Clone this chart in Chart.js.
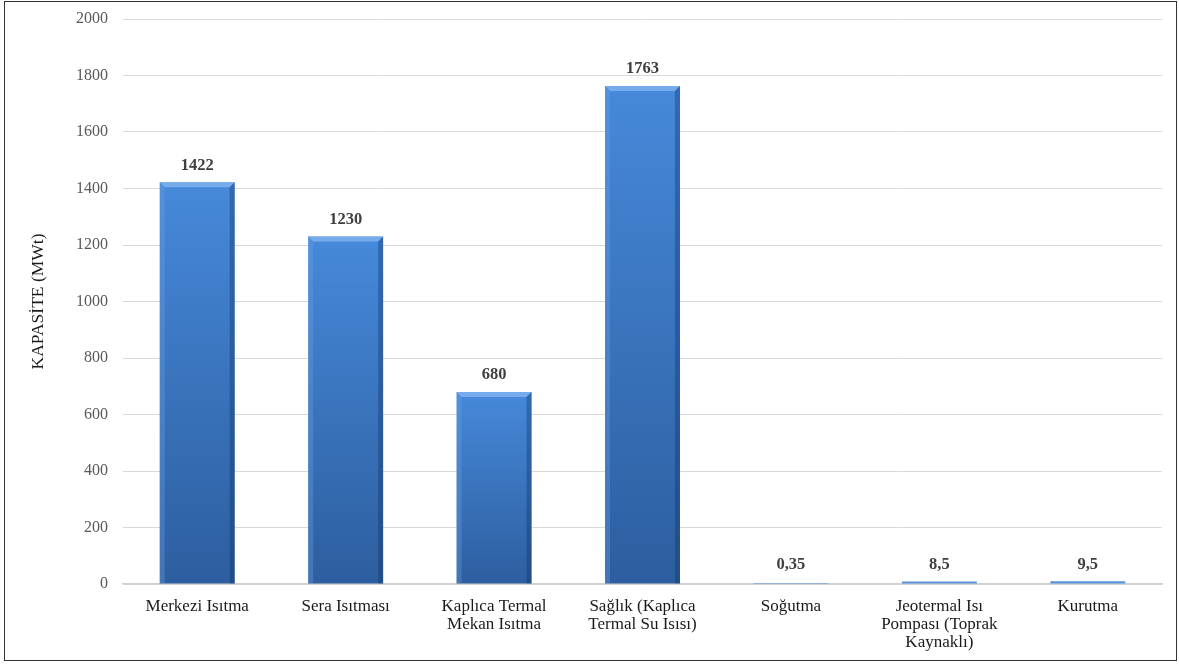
<!DOCTYPE html>
<html>
<head>
<meta charset="utf-8">
<script src="https://cdn.jsdelivr.net/npm/chart.js@4"></script>
<style>
html,body{margin:0;padding:0;background:#fff;}
#wrap{width:1179px;height:664px;position:relative;}
</style>
</head>
<body>
<div id="wrap"><canvas id="c" width="1179" height="664"></canvas></div>
<script>
const categories = [
  "Merkezi Isıtma",
  "Sera Isıtması",
  ["Kaplıca Termal", "Mekan Isıtma"],
  ["Sağlık (Kaplıca", "Termal Su Isısı)"],
  "Soğutma",
  ["Jeotermal Isı", "Pompası (Toprak", "Kaynaklı)"],
  "Kurutma"
];
const values = [1422, 1230, 680, 1763, 0.35, 8.5, 9.5];
const valueLabels = ["1422", "1230", "680", "1763", "0,35", "8,5", "9,5"];
const yTicks = [0, 200, 400, 600, 800, 1000, 1200, 1400, 1600, 1800, 2000];

const FONT = '"Liberation Serif", "Times New Roman", serif';

const framePlugin = {
  id: 'frame',
  beforeDraw(chart) {
    const ctx = chart.ctx;
    ctx.save();
    ctx.fillStyle = '#fff';
    ctx.fillRect(0, 0, chart.width, chart.height);
    ctx.restore();
  },
  afterDraw(chart) {
    const ctx = chart.ctx;
    ctx.save();
    ctx.strokeStyle = '#333';
    ctx.lineWidth = 1;
    ctx.strokeRect(4.5, 1.5, 1172, 659);
    ctx.restore();
  }
};

const barDecor = {
  id: 'barDecor',
  afterDatasetsDraw(chart) {
    const ctx = chart.ctx;
    const meta = chart.getDatasetMeta(0);
    ctx.save();
    meta.data.forEach((bar, i) => {
      const p = bar.getProps(['x', 'y', 'base', 'width'], true);
      const l = p.x - p.width / 2, r = p.x + p.width / 2;
      const h = p.base - p.y;
      if (h > 12) {
        const b = 5;
        ctx.fillStyle = 'rgba(130,180,240,0.8)';
        ctx.beginPath();
        ctx.moveTo(l, p.y); ctx.lineTo(r, p.y); ctx.lineTo(r - b, p.y + b); ctx.lineTo(l + b, p.y + b); ctx.closePath();
        ctx.fill();
        ctx.fillStyle = 'rgba(110,160,225,0.35)';
        ctx.beginPath();
        ctx.moveTo(l, p.y); ctx.lineTo(l + b, p.y + b); ctx.lineTo(l + b, p.base); ctx.lineTo(l, p.base); ctx.closePath();
        ctx.fill();
        ctx.fillStyle = 'rgba(15,45,95,0.35)';
        ctx.beginPath();
        ctx.moveTo(r, p.y); ctx.lineTo(r - b, p.y + b); ctx.lineTo(r - b, p.base); ctx.lineTo(r, p.base); ctx.closePath();
        ctx.fill();
      }
      ctx.fillStyle = '#404040';
      ctx.font = 'bold 16.5px ' + FONT;
      ctx.textAlign = 'center';
      ctx.textBaseline = 'middle';
      ctx.fillText(valueLabels[i], p.x, Math.min(p.y, p.base - 2) - 17);
    });
    ctx.restore();
  }
};

new Chart(document.getElementById('c'), {
  type: 'bar',
  data: {
    labels: categories,
    datasets: [{
      data: values,
      backgroundColor(ctx) {
        const chart = ctx.chart;
        const ys = chart.scales && chart.scales.y;
        if (!ys || ctx.raw === undefined) return '#3f7fcf';
        const top = ys.getPixelForValue(ctx.raw);
        const base = ys.getPixelForValue(0);
        if (!isFinite(top) || !isFinite(base) || base - top < 12) return '#5b92dc';
        const g = chart.ctx.createLinearGradient(0, top, 0, base);
        g.addColorStop(0, '#4689da');
        g.addColorStop(1, '#2d5e9f');
        return g;
      },
      borderWidth: 0,
      categoryPercentage: 1,
      barPercentage: 0.505
    }]
  },
  options: {
    responsive: false,
    animation: false,
    devicePixelRatio: 1,
    layout: { padding: { left: 0, top: 19, right: 17, bottom: 0 } },
    plugins: { legend: { display: false }, tooltip: { enabled: false } },
    scales: {
      x: {
        grid: { display: false, drawTicks: false },
        border: { display: true, color: '#d0d0d0', width: 1.5 },
        ticks: {
          color: '#1a1a1a',
          font: { family: FONT, size: 17, lineHeight: 1.04 },
          padding: 14,
          maxRotation: 0,
          autoSkip: false
        },
        afterFit(scale) { scale.height = 80; }
      },
      y: {
        min: 0,
        max: 2000,
        afterBuildTicks(scale) { scale.ticks = yTicks.map(v => ({ value: v })); },
        grid: { color: '#d9d9d9', drawTicks: false, lineWidth: 1 },
        border: { display: false },
        ticks: {
          color: '#595959',
          font: { family: FONT, size: 16 },
          padding: 15,
          callback(v) { return String(v); }
        },
        title: {
          display: true,
          text: 'KAPASİTE (MWt)',
          color: '#1a1a1a',
          font: { family: FONT, size: 17.5 },
          padding: { top: 28, bottom: 0 }
        },
        afterFit(scale) {
          scale.width = 123;
          scale.paddingTop = 0;
          scale.paddingBottom = 0;
        }
      }
    }
  },
  plugins: [framePlugin, barDecor]
});
</script>
</body>
</html>
